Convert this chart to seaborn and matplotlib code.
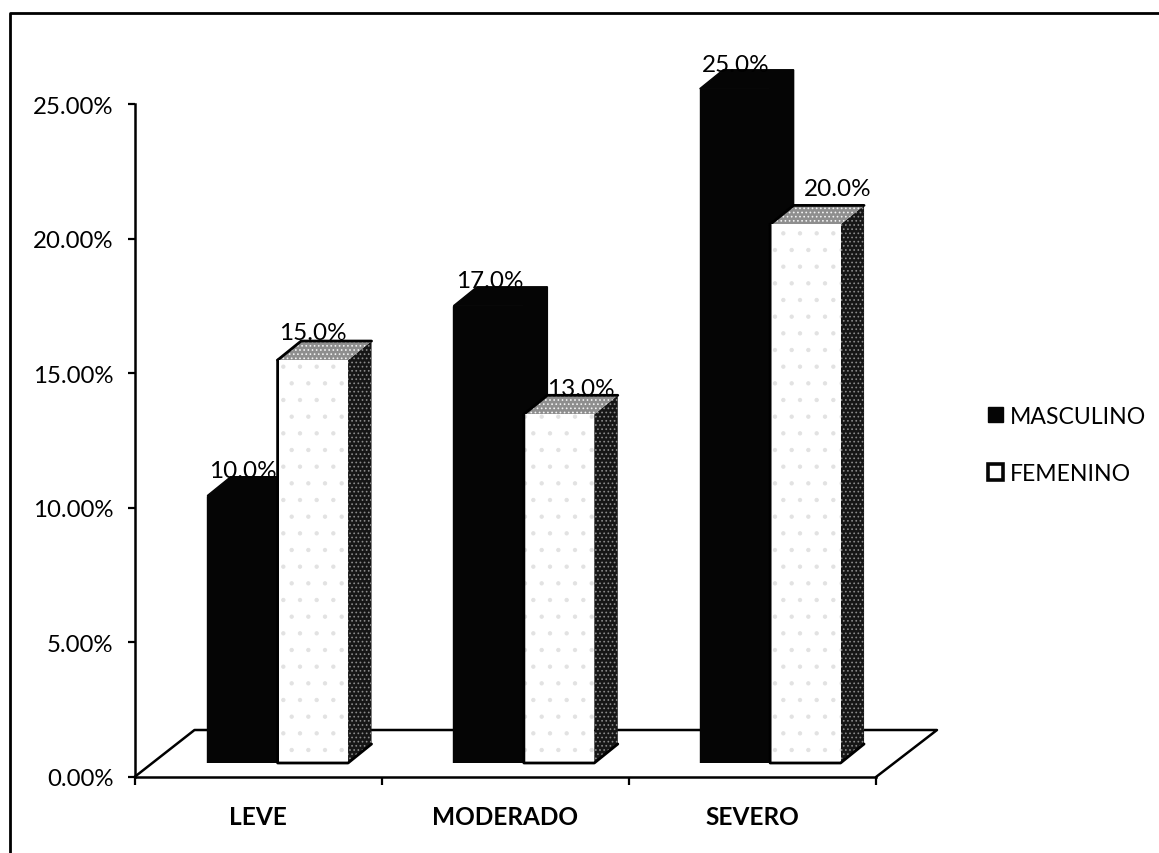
import matplotlib
matplotlib.use("Agg")
import matplotlib.pyplot as plt
import pandas as pd
import seaborn as sns
from matplotlib.lines import Line2D
from matplotlib.patches import Patch, Polygon

niveles = ["LEVE", "MODERADO", "SEVERO"]
masculino = [10.0, 17.0, 25.0]
femenino = [15.0, 13.0, 20.0]
y_ticks = [0, 5, 10, 15, 20, 25]

W, H = 1159, 854
sns.set_theme(style="white")
plt.rcParams["font.family"] = ["Lato", "DejaVu Sans"]
plt.rcParams["hatch.linewidth"] = 0.7


def px_axes(left, right, top, bottom):
    return [left / W, 1 - bottom / H, (right - left) / W, (bottom - top) / H]


df = pd.DataFrame({
    "nivel": niveles * 2,
    "pct": masculino + femenino,
    "sexo": ["MASCULINO"] * 3 + ["FEMENINO"] * 3,
})

fig = plt.figure(figsize=(W / 100, H / 100), dpi=100, facecolor="white")

# marco del grafico (solo izquierda y arriba llegan a verse)
fig.add_artist(Line2D([10 / W, 10 / W, 1], [0, 1 - 14 / H, 1 - 14 / H], color="black", lw=2))

# ejes 2D con el piso
ax = fig.add_axes(px_axes(134.5, 876, 105, 778))
ax.set_xlim(-0.5, 2.5)
ax.set_ylim(0, 25)
ax.set_facecolor("none")
sns.despine(ax=ax)
for s in ["left", "bottom"]:
    ax.spines[s].set_linewidth(1.8)
    ax.spines[s].set_color("black")
ax.set_yticks(y_ticks)
ax.set_yticklabels([f"{v:.2f}%" for v in y_ticks], fontsize=17.3, color="black")
ax.set_xticks([-0.5, 0.5, 1.5, 2.5])
ax.set_xticklabels([])
ax.set_xticks([0, 1, 2], minor=True)
ax.set_xticklabels(niveles, minor=True, fontsize=17.6, fontweight="bold", color="black")
ax.tick_params(axis="y", which="major", length=5, width=1.6, color="black", pad=10, left=True)
ax.tick_params(axis="x", which="major", length=6, width=1.6, color="black", bottom=True)
ax.tick_params(axis="x", which="minor", length=0, pad=20)

floor_x = 3 / (876 - 134.5)
floor_y = 25 / (778 - 105)
ax.plot([-0.5, -0.5 + 60 * floor_x, 2.5 + 61 * floor_x, 2.5],
        [0, 47 * floor_y, 47 * floor_y, 0], color="black", lw=1.8, clip_on=False, zorder=0.5)

# barras: el cero queda en y=768 y el frente se corta en y=764
scale = 27.13
group_px = 246.25
front = fig.add_axes(px_axes(154.5, 154.5 + 3 * group_px, 0, 764))
sns.barplot(data=df, x="nivel", y="pct", hue="sexo", hue_order=["MASCULINO", "FEMENINO"],
            palette=["#050505", "#ffffff"], saturation=1, width=0.572, gap=0,
            legend=False, ax=front)
front.set_xlim(-0.5, 2.5)
front.set_ylim(4 / scale, 4 / scale + 764 / scale)
front.axis("off")
front.patch.set_alpha(0)

dx = 23.5 / group_px
dy = 19 / scale
base = front.get_ylim()[0]

for k, cont in enumerate(front.containers):
    for bar in cont:
        x0, w, h = bar.get_x(), bar.get_width(), bar.get_height()
        x1 = x0 + w
        side = [(x1, base), (x1 + dx, base + dy), (x1 + dx, h + dy), (x1, h)]
        top = [(x0, h), (x0 + dx, h + dy), (x1 + dx, h + dy), (x1, h)]
        z = 2 + 3 * k
        bar.set_zorder(z + 2)
        if k == 0:
            bar.set_edgecolor("#050505")
            bar.set_linewidth(1)
            front.add_patch(Polygon(side, fc="#050505", ec="#050505", lw=1, zorder=z))
            front.add_patch(Polygon(top, fc="#050505", ec="#050505", lw=1, zorder=z))
        else:
            bar.set_linewidth(0)
            bar.set_edgecolor("#e2e2e2")
            bar.set_hatch(".")
            front.add_patch(Polygon(side, fc="#161616", ec="#8a8a8a", lw=0, hatch="....", zorder=z))
            front.add_patch(Polygon(top, fc="#8e8e8e", ec="#f2f2f2", lw=0, hatch="....", zorder=z))
            front.plot([x0, x0 + dx, x1 + dx], [h, h + dy, h + dy],
                       color="black", lw=2, zorder=z + 1, solid_capstyle="round")
            front.plot([x0, x0, x1, x1 + dx], [h, base, base, base + dy],
                       color="black", lw=2, zorder=z + 3, clip_on=False)

# etiquetas: ajuste en pixeles respecto a la cara trasera de cada barra
shift_m = [(0, 0), (1, 0), (1, -1)]
shift_f = [(0, 2), (22, 0), (32, 10)]
for cont, vals, shifts in zip(front.containers, [masculino, femenino], [shift_m, shift_f]):
    for bar, v, (sx, sy) in zip(cont, vals, shifts):
        front.annotate(f"{v:.1f}%", (bar.get_x() + bar.get_width() / 2, v + dy),
                       xytext=(sx * 0.72, (sy - 4) * 0.72), textcoords="offset points",
                       ha="center", va="bottom", fontsize=17.5, color="black", zorder=20)

handles = [Patch(fc="#050505", ec="#050505", lw=1, label="MASCULINO"),
           Patch(fc="white", ec="#050505", lw=2.6, label="FEMENINO")]
fig.legend(handles=handles, loc="upper left", bbox_to_anchor=(967 / W, 1 - 386 / H), frameon=False,
           fontsize=16.6, handlelength=0.66, handleheight=0.66, handletextpad=0.3,
           labelspacing=1.58, labelcolor="black")

fig.savefig("out.png", dpi=100)
